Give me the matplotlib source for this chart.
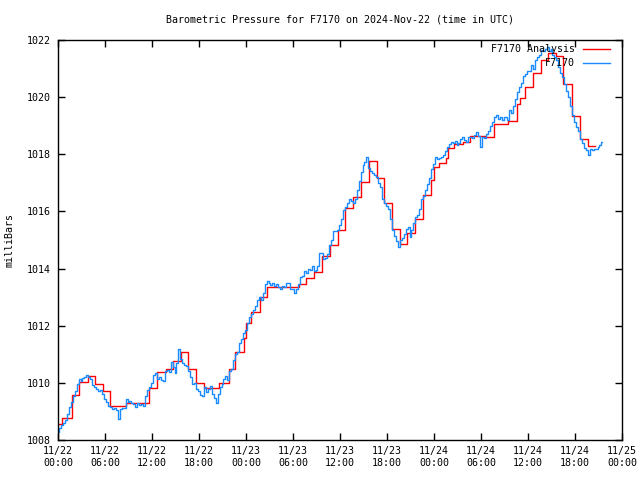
import numpy as np
import pandas as pd
import matplotlib
matplotlib.use('Agg')
import matplotlib.pyplot as plt
import matplotlib.dates as mdates

plt.rcParams['font.family'] = ['DejaVu Sans Mono']
plt.rcParams['font.size'] = 7.2

# inicio de la serie (UTC)
t_start = pd.Timestamp('2024-11-22 00:00')

# analisis: hora (desde el inicio) en que empieza cada escalon y su valor (mb)
red_hours = [0.0, 0.55, 1.75, 2.72, 3.87, 4.72, 5.7, 6.68, 8.7, 11.65,
             12.7, 13.75, 14.7, 15.7, 16.6, 17.6, 18.7, 20.6, 21.8, 22.6,
             23.7, 24.0, 24.7, 25.8, 26.7, 30.8, 31.6, 32.7, 33.7, 34.7,
             35.7, 36.6, 37.7, 38.7, 39.7, 40.7, 41.6, 42.6, 43.7, 44.6,
             45.6, 46.6, 47.6, 48.0, 48.6, 49.5, 49.8, 50.6, 51.7, 52.6,
             54.5, 55.6, 57.5, 58.6, 59.0, 59.6, 60.6, 61.6, 62.6, 63.6,
             64.5, 65.6, 66.6, 67.6]
red_values = [1008.56, 1008.76, 1009.57, 1010.04, 1010.24, 1009.96, 1009.73, 1009.20, 1009.30, 1009.81,
              1010.37, 1010.47, 1010.78, 1011.07, 1010.47, 1009.99, 1009.81, 1009.98, 1010.47, 1011.07,
              1011.56, 1012.08, 1012.49, 1013.02, 1013.34, 1013.46, 1013.66, 1013.87, 1014.44, 1014.83,
              1015.35, 1016.11, 1016.50, 1017.04, 1017.77, 1017.16, 1016.31, 1015.37, 1014.85, 1015.23,
              1015.74, 1016.58, 1017.10, 1017.55, 1017.68, 1017.86, 1018.21, 1018.35, 1018.44, 1018.64,
              1018.59, 1019.06, 1019.18, 1019.76, 1019.96, 1020.37, 1020.84, 1021.30, 1021.55, 1021.45,
              1020.46, 1019.34, 1018.53, 1018.29]
red_end_hour = 68.5

# observaciones de la estacion, cada 15 minutos (mb)
blue_step_hours = 0.25
blue_values = [
    1008.29, 1008.41, 1008.52, 1008.60, 1008.70, 1008.90, 1009.15, 1009.34, 1009.55, 1009.72,
    1009.95, 1010.14, 1010.05, 1010.16, 1010.20, 1010.28, 1010.22, 1010.12, 1009.93, 1009.87,
    1009.78, 1009.72, 1009.74, 1009.60, 1009.42, 1009.32, 1009.20, 1009.14, 1009.08, 1009.11,
    1009.05, 1008.75, 1009.10, 1009.12, 1009.11, 1009.45, 1009.34, 1009.38, 1009.30, 1009.25,
    1009.17, 1009.28, 1009.22, 1009.25, 1009.20, 1009.55, 1009.74, 1009.87, 1010.00,
    1010.28, 1010.33, 1010.15, 1010.22, 1010.10, 1010.05, 1010.42, 1010.45, 1010.39, 1010.74,
    1010.55, 1010.35, 1010.70, 1011.20, 1010.85, 1010.68, 1010.62, 1010.60, 1010.42, 1010.20,
    1009.95, 1009.98, 1009.80, 1009.70, 1009.58, 1009.55, 1009.85, 1009.69, 1009.78, 1009.90,
    1009.60, 1009.46, 1009.28, 1009.60, 1009.85, 1009.95, 1010.15, 1010.25, 1010.10, 1010.40,
    1010.50, 1010.80, 1011.00, 1011.08, 1011.38, 1011.52, 1011.75, 1011.85,
    1012.10, 1012.30, 1012.40, 1012.55, 1012.70, 1012.90, 1013.00, 1012.90, 1013.15, 1013.45,
    1013.55, 1013.50, 1013.42, 1013.50, 1013.40, 1013.45, 1013.37, 1013.30, 1013.39, 1013.34,
    1013.50, 1013.48, 1013.30, 1013.28, 1013.13, 1013.30, 1013.45, 1013.70, 1013.74, 1013.93,
    1013.86, 1014.00, 1013.95, 1014.08, 1013.90, 1013.95, 1014.10, 1014.53, 1014.55, 1014.35,
    1014.36, 1014.50, 1014.83, 1015.00, 1015.30,
    1015.33, 1015.35, 1015.52, 1015.72, 1016.05, 1016.14, 1016.30, 1016.45, 1016.38, 1016.30,
    1016.45, 1016.75, 1017.05, 1017.37, 1017.63, 1017.72, 1017.92, 1017.52, 1017.42, 1017.33,
    1017.27, 1017.20, 1017.00, 1016.85, 1016.45, 1016.28, 1016.20, 1016.10, 1015.75, 1015.35,
    1015.13, 1014.98, 1014.75, 1015.00, 1015.06, 1015.20, 1015.40, 1015.45, 1015.12, 1015.35,
    1015.60, 1015.80, 1015.88, 1016.10, 1016.42, 1016.55, 1016.75, 1016.95, 1017.16,
    1017.50, 1017.65, 1017.90, 1017.84, 1017.86, 1017.92, 1017.98, 1018.10, 1018.25, 1018.36,
    1018.44, 1018.38, 1018.45, 1018.33, 1018.40, 1018.55, 1018.62, 1018.50, 1018.44, 1018.60,
    1018.62, 1018.58, 1018.67, 1018.78, 1018.65, 1018.27, 1018.60, 1018.56, 1018.70, 1018.82,
    1019.00, 1019.12, 1019.30, 1019.38, 1019.22, 1019.30, 1019.20, 1019.30, 1019.30, 1019.20,
    1019.55, 1019.45, 1019.70, 1019.95, 1020.18, 1020.37, 1020.50, 1020.75, 1020.80, 1020.90,
    1020.90, 1021.12, 1021.00, 1021.30, 1021.42, 1021.48, 1021.65, 1021.60, 1021.68, 1021.75,
    1021.62, 1021.70, 1021.47, 1021.40, 1021.30, 1021.05, 1020.85, 1020.72, 1020.45, 1020.20,
    1020.00, 1019.70, 1019.37, 1019.14, 1018.95, 1018.80, 1018.55, 1018.40, 1018.22, 1018.15,
    1017.97, 1018.18, 1018.15, 1018.20, 1018.17, 1018.27, 1018.32, 1018.42]

y_min, y_max = 1008, 1022

# tiempos
red_t = t_start + pd.to_timedelta(red_hours + [red_end_hour], unit='h')
red_v = red_values + [red_values[-1]]
blue_h = np.arange(len(blue_values)) * blue_step_hours
blue_t = t_start + pd.to_timedelta(blue_h, unit='h')

fig = plt.figure(figsize=(6.4, 4.8), dpi=100)
ax = fig.add_axes([58/640, 40/480, 564/640, 400/480])

lw = 1.0
ax.step(red_t, red_v, where='post', color='#ff0000', lw=lw)
ax.plot(blue_t, blue_values, color='#1a8cff', lw=lw, drawstyle='steps-mid')

ax.set_xlim(t_start, t_start + pd.Timedelta(days=3))
ax.set_ylim(y_min, y_max)
ax.set_yticks(np.arange(y_min, y_max + 1, 2))
ax.xaxis.set_major_locator(mdates.HourLocator(byhour=[0, 6, 12, 18]))
ax.xaxis.set_major_formatter(mdates.DateFormatter('%m/%d\n%H:%M'))
for lab in ax.get_xticklabels():
    lab.set_linespacing(1.35)
ax.tick_params(direction='in', length=5, width=1, top=True, right=True, pad=4)
ax.tick_params(axis='y', pad=5)
for s in ax.spines.values():
    s.set_linewidth(1)

# leyenda estilo gnuplot (texto alineado a la derecha)
ax.text(0.917, 0.9775, 'F7170 Analysis', transform=ax.transAxes, ha='right', va='center')
ax.text(0.917, 0.9425, 'F7170', transform=ax.transAxes, ha='right', va='center')
ax.plot([0.931, 0.979], [0.9775, 0.9775], transform=ax.transAxes, color='#ff0000', lw=lw)
ax.plot([0.931, 0.979], [0.9425, 0.9425], transform=ax.transAxes, color='#1a8cff', lw=lw)

fig.text(340/640, 1 - 20/480, 'Barometric Pressure for F7170 on 2024-Nov-22 (time in UTC)',
         ha='center', va='center')
fig.text(10/640, 0.5, 'milliBars', rotation=90, ha='center', va='center')

fig.savefig('out.png', dpi=100)
